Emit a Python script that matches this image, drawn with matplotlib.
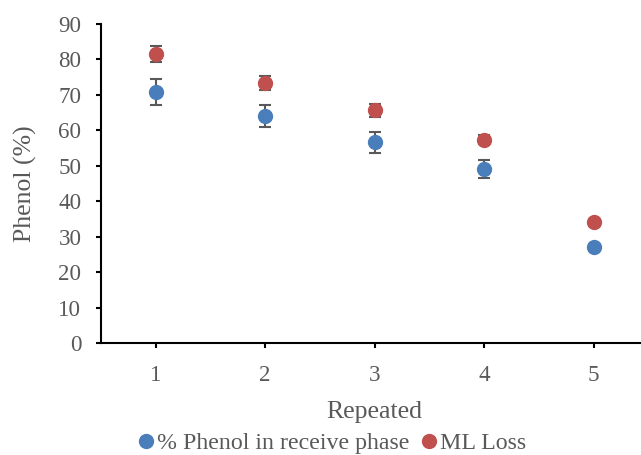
import matplotlib
matplotlib.use('Agg')
import matplotlib.pyplot as plt
import numpy as np

# data
repeats = [1, 2, 3, 4, 5]
phenol_receive = [70.8, 64.0, 56.6, 49.1, 27.0]
phenol_receive_err = [3.6, 3.2, 2.9, 2.5, 1.0]
ml_loss = [81.5, 73.4, 65.6, 57.4, 34.0]
ml_loss_err = [2.2, 2.0, 1.9, 1.2, 1.0]
yticks = [0, 10, 20, 30, 40, 50, 60, 70, 80, 90]

blue = '#4a7ebb'
red = '#c0504d'
grey = '#595959'

plt.rcParams['font.family'] = ['Liberation Serif', 'DejaVu Serif']

fig = plt.figure(figsize=(6.41, 4.55), dpi=100)
ax = fig.add_axes([101 / 641, 1 - 343 / 455, 547.5 / 641, 319 / 455])

ax.errorbar(repeats, phenol_receive, yerr=phenol_receive_err, fmt='o', color=blue,
            markersize=10, ecolor=grey, elinewidth=1.5, capsize=4.3, capthick=1.5,
            label='% Phenol in receive phase', zorder=3)
ax.errorbar(repeats, ml_loss, yerr=ml_loss_err, fmt='o', color=red,
            markersize=10, ecolor=grey, elinewidth=1.5, capsize=4.3, capthick=1.5,
            label='ML Loss', zorder=3)

ax.set_xlim(0.5, 5.5)
ax.set_ylim(0, 90)
ax.set_yticks(yticks)
ax.set_xticks(repeats)

for side in ['top', 'right']:
    ax.spines[side].set_visible(False)
for side in ['left', 'bottom']:
    ax.spines[side].set_linewidth(1.5)
    ax.spines[side].set_color('black')

ax.tick_params(axis='both', direction='out', length=3.6, width=1.5, color='black',
               labelsize=16.6, labelcolor=grey)
ax.tick_params(axis='y', pad=10.5)
ax.tick_params(axis='x', pad=12)

ax.set_xlabel('Repeated', fontsize=18.5, color=grey, labelpad=11)
ax.set_ylabel('Phenol (%)', fontsize=18.5, color=grey, labelpad=15)

handles, labels = ax.get_legend_handles_labels()
handles = [h[0] for h in handles]
leg = fig.legend(handles, labels, loc='center', bbox_to_anchor=(0.518, 1 - 443 / 455),
                 ncol=2, frameon=False, fontsize=17.2, handlelength=0.7,
                 handletextpad=0.1, columnspacing=0.5, markerscale=1.0)
for t in leg.get_texts():
    t.set_color(grey)

fig.savefig('out.png', dpi=100)
plt.close(fig)
